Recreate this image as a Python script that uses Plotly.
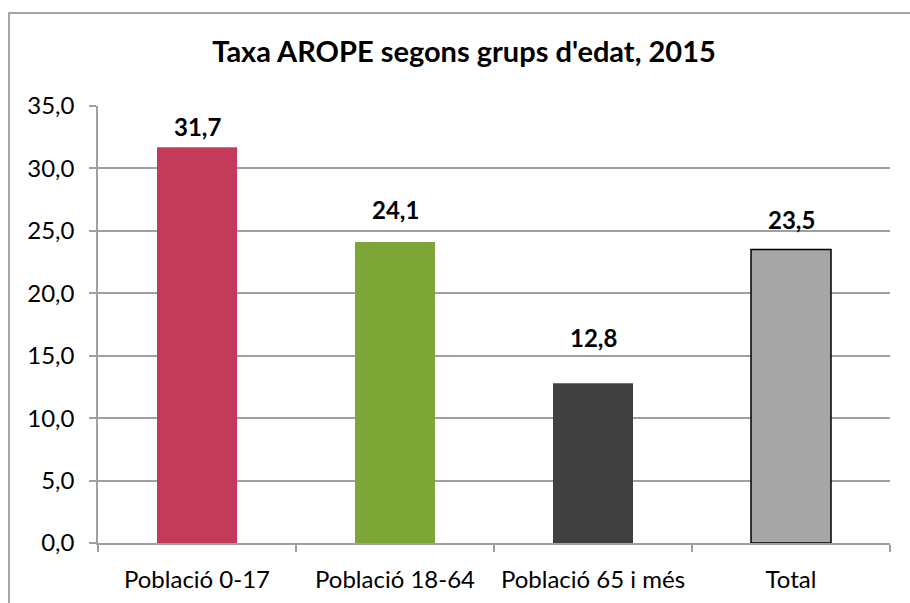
import plotly.graph_objects as go

categories = ["Població 0-17", "Població 18-64", "Població 65 i més", "Total"]
values = [31.7, 24.1, 12.8, 23.5]
y_ticks = [0, 5, 10, 15, 20, 25, 30, 35]

# styles
colors = ["#C33A5B", "#7EA637", "#404040", "#A6A6A6"]
line_colors = ["#C33A5B", "#7EA637", "#404040", "#000000"]
line_widths = [0, 0, 0, 1.5]
label_gap_px = [7, 19, 32, 17]

FONT = "Lato"
GRID = "#A0A0A0"

fig = go.Figure(go.Bar(
    x=categories,
    y=values,
    marker=dict(color=colors, line=dict(color=line_colors, width=line_widths)),
    width=0.404,
    cliponaxis=False,
))

for cat, val, gap in zip(categories, values, label_gap_px):
    fig.add_annotation(
        x=cat, y=val, xref="x", yref="y",
        text=f"<b>{val:.1f}</b>".replace(".", ","),
        showarrow=False, yanchor="bottom", xanchor="center",
        yshift=gap - 3,
        font=dict(family=FONT, size=24, color="#000000"),
    )

W, H = 910, 603
L, R, T, B = 98, 20, 106, 60
pw, ph = W - L - R, H - T - B

def px_to_paper_x(px):
    return (px - L) / pw

def px_to_paper_y(py):
    return (H - B - py) / ph

fig.update_layout(
    width=W, height=H,
    margin=dict(l=L, r=R, t=T, b=B, autoexpand=False),
    paper_bgcolor="white",
    plot_bgcolor="white",
    separators=",.",
    showlegend=False,
    title=dict(
        text="<b>Taxa AROPE segons grups d'edat, 2015</b>",
        font=dict(family=FONT, size=29, color="#000000"),
        x=464 / W, xanchor="center", xref="container",
        y=1 - 52 / H, yanchor="middle",
    ),
    xaxis=dict(
        type="category",
        tickson="boundaries",
        ticks="outside", ticklen=7, tickcolor=GRID, tickwidth=1.5,
        showline=True, linecolor=GRID, linewidth=1.5,
        showgrid=False,
        tickfont=dict(family=FONT, size=24, color="#000000"),
        ticklabelstandoff=14,
        range=[-0.5, 3.5],
    ),
    yaxis=dict(
        range=[0, 35],
        tickvals=y_ticks,
        tickformat=".1f",
        ticks="outside", ticklen=7, tickcolor=GRID, tickwidth=1.5,
        showline=True, linecolor=GRID, linewidth=1.5,
        showgrid=True, gridcolor=GRID, gridwidth=1.5,
        zeroline=False,
        tickfont=dict(family=FONT, size=24, color="#000000"),
        ticklabelstandoff=10,
    ),
    shapes=[dict(
        type="rect", xref="paper", yref="paper",
        x0=px_to_paper_x(9), x1=px_to_paper_x(915),
        y0=px_to_paper_y(610), y1=px_to_paper_y(13),
        line=dict(color="#878787", width=1.5),
        fillcolor="rgba(0,0,0,0)", layer="below",
    )],
)

fig.write_html(
    "out.html",
    config={"displayModeBar": False},
    post_script="document.body.style.margin='0';document.body.style.overflow='hidden';",
)
